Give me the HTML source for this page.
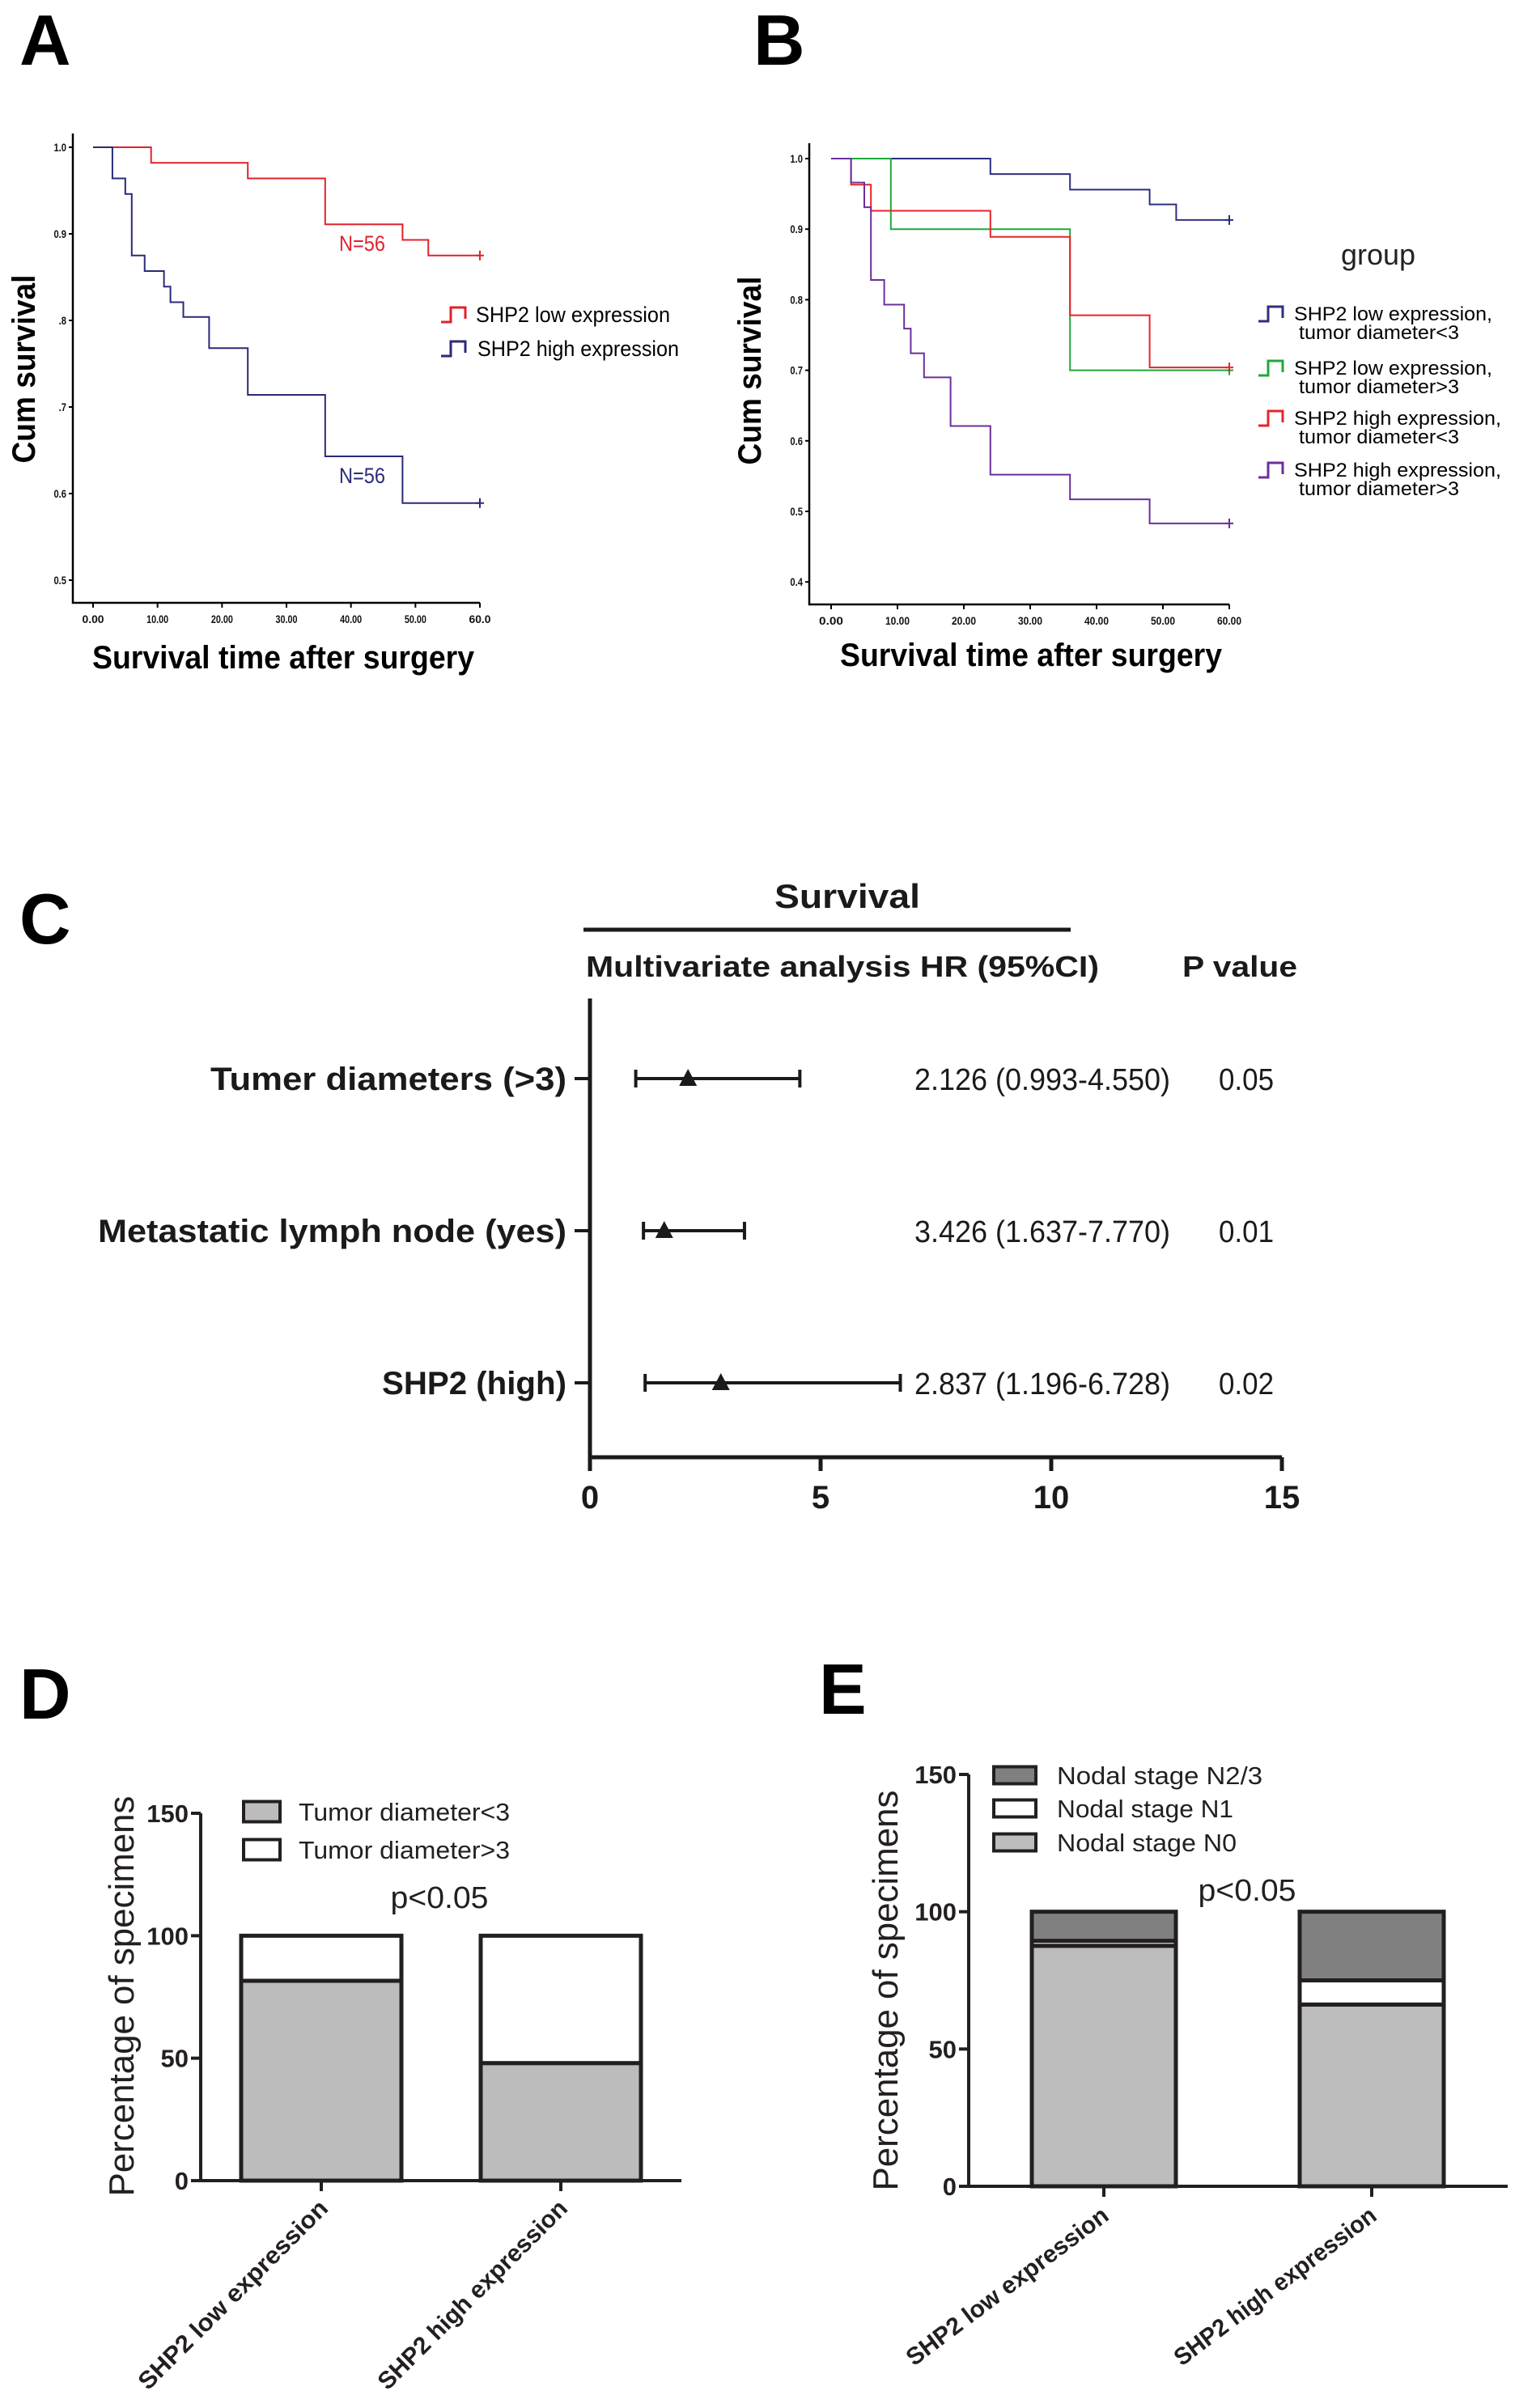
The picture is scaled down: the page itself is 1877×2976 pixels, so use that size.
<!DOCTYPE html>
<html><head><meta charset="utf-8"><style>
html,body{margin:0;padding:0;background:#fff}
svg{display:block}
text{font-family:"Liberation Sans",Arial,sans-serif}
</style></head>
<body>
<svg id="fig" xmlns="http://www.w3.org/2000/svg" width="1877" height="2976" viewBox="0 0 1877 2976">
<rect width="1877" height="2976" fill="#fff"/>
<g id="static"></g>
</svg>
<script>
// ---------- Panel A data ----------
const aLowTimes=[9,24,36,48,52];
const aLowSurv=[0.982,0.964,0.911,0.893,0.875];
const aHighTimes=[3,5,6,8,11,12,14,18,24,36,48];
const aHighSurv=[0.964,0.946,0.875,0.857,0.839,0.821,0.804,0.768,0.714,0.643,0.589];
const aYTicks=[1.0,0.9,0.8,0.7,0.6,0.5];
const aYTickLabels=["1.0","0.9",".8",".7","0.6","0.5"];
const kmXTicks=[0,10,20,30,40,50,60];
const aXTickLabels=["0.00","10.00","20.00","30.00","40.00","50.00","60.0"];
// ---------- Panel B data ----------
const bLowSmallTimes=[24,36,48,52];
const bLowSmallSurv=[0.978,0.956,0.935,0.913];
const bLowLargeTimes=[9,36];
const bLowLargeSurv=[0.900,0.700];
const bHighSmallTimes=[3,6,24,36,48];
const bHighSmallSurv=[0.963,0.926,0.889,0.778,0.704];
const bHighLargeTimes=[3,5,6,8,11,12,14,18,24,36,48];
const bHighLargeSurv=[0.966,0.931,0.828,0.793,0.759,0.724,0.690,0.621,0.552,0.517,0.483];
const bYTicks=[1.0,0.9,0.8,0.7,0.6,0.5,0.4];
const bYTickLabels=["1.0","0.9","0.8","0.7","0.6","0.5","0.4"];
const bXTickLabels=["0.00","10.00","20.00","30.00","40.00","50.00","60.00"];
// ---------- Panel C data ----------
const cFactors=["Tumer diameters (>3)","Metastatic lymph node (yes)","SHP2 (high)"];
const cHR=[2.126,1.61,2.837];
const cLow=[0.993,1.16,1.196];
const cHigh=[4.55,3.35,6.728];
const cHRText=["2.126 (0.993-4.550)","3.426 (1.637-7.770)","2.837 (1.196-6.728)"];
const cPText=["0.05","0.01","0.02"];
const cXTicks=[0,5,10,15];
// ---------- Panel D data ----------
const dCategories=["SHP2 low expression","SHP2 high expression"];
const dSmall=[81.6,48];
const dLarge=[18.4,52];
const dYTicks=[0,50,100,150];
// ---------- Panel E data ----------
const eCategories=["SHP2 low expression","SHP2 high expression"];
const eN0=[87.6,66.2];
const eN1=[1.8,8.8];
const eN23=[10.6,25];
const eYTicks=[0,50,100,150];

const NS="http://www.w3.org/2000/svg";
const root=document.getElementById('static');
function mk(tag,attrs,parent,txt){const e=document.createElementNS(NS,tag);for(const k in attrs)e.setAttribute(k,attrs[k]);if(txt!==undefined)e.textContent=txt;(parent||root).appendChild(e);return e;}

// ===== Panel letters =====
[["A",24,80],["B",931,80],["C",24,1166],["D",24,2124],["E",1012,2118]].forEach(p=>{
 const t=mk('text',{x:p[1],y:p[2],'font-size':88,'font-weight':'bold',fill:'#000'},root,p[0]);
 
 
});

// ===== KM helper =====
function kmPanel(cfg){
 const g=mk('g',{});
 
 
 const xs=v=>cfg.x0+(v-0)/60*(cfg.x60-cfg.x0);
 const ys=v=>cfg.y1+(1-v)/0.1*cfg.yPer01;
 const ax=mk('path',{d:`M${cfg.axX} ${cfg.axTop} V${cfg.axY} H${cfg.x60}`,stroke:'#000','stroke-width':2.5,fill:'none'},g);
 
 
 cfg.yTicks.forEach((v,i)=>{
  const tk=mk('line',{x1:cfg.axX-5,x2:cfg.axX,y1:ys(v),y2:ys(v),stroke:'#000','stroke-width':2},g);
  
  
  const tl=mk('text',{x:cfg.axX-8,y:ys(v)+5,'font-size':14,'font-weight':'bold','text-anchor':'end',fill:'#111',transform:`translate(${cfg.axX-8} 0) scale(0.8 1) translate(${-(cfg.axX-8)} 0)`},g,cfg.yLabels[i]);
  
  
 });
 kmXTicks.forEach((v,i)=>{
  const tk=mk('line',{x1:xs(v),x2:xs(v),y1:cfg.axY,y2:cfg.axY+6,stroke:'#000','stroke-width':2},g);
  
  
  const tl=mk('text',{x:xs(v),y:cfg.axY+25,'font-size':14,'font-weight':'bold','text-anchor':'middle',fill:'#111',textLength:cfg.tlw,lengthAdjust:'spacingAndGlyphs'},g,cfg.xLabels[i]);
  
  
 });
 cfg.series.forEach(s=>{
  let d=`M${xs(0)} ${ys(1)}`;
  s.t.forEach((t,i)=>{d+=` H${xs(t)} V${ys(s.s[i])}`;});
  d+=` H${xs(60)}`;
  const p=mk('path',{d,stroke:s.c,'stroke-width':2,fill:'none'},g);
  
  
  const last=s.s[s.s.length-1];
  const cm=mk('path',{d:`M${xs(60)-5} ${ys(last)} H${xs(60)+5} M${xs(60)} ${ys(last)-6} V${ys(last)+6}`,stroke:s.c,'stroke-width':2},g);
  
  
 });
 const yt=mk('text',{x:0,y:0,'font-size':40,'font-weight':'bold','text-anchor':'middle',transform:`translate(${cfg.ytX} ${cfg.ytY}) rotate(-90)`,textLength:233,lengthAdjust:'spacingAndGlyphs',dy:14},g,'Cum survival');
 
 
 const xt=mk('text',{x:cfg.xtX,y:cfg.xtY,'font-size':40,'font-weight':'bold','text-anchor':'middle',textLength:472,lengthAdjust:'spacingAndGlyphs'},g,'Survival time after surgery');
 
 
 return {g,xs,ys};
}
function legendSym(g,x,y,c){
 const p=mk('path',{d:`M${x} ${y+10} H${x+12} V${y-8} H${x+30} V${y+6}`,stroke:c,'stroke-width':3,fill:'none'},g);
 
 
}

// ===== Panel A =====
const A=kmPanel({name:'panel-a-km-chart',x0:115,x60:593,y1:182,yPer01:107,axX:90,axTop:165,axY:745,yTicks:aYTicks,yLabels:aYTickLabels,xLabels:aXTickLabels,tlw:27,
 series:[{t:aLowTimes,s:aLowSurv,c:'#e0222c',n:'line-shp2-low'},{t:aHighTimes,s:aHighSurv,c:'#2a2a78',n:'line-shp2-high'}],
 ytX:29,ytY:456,xtX:350,xtY:826});
let t=mk('text',{x:419,y:310,'font-size':27,fill:'#e0222c',textLength:57,lengthAdjust:'spacingAndGlyphs'},A.g,'N=56');


t=mk('text',{x:419,y:597,'font-size':27,fill:'#2a2a78',textLength:57,lengthAdjust:'spacingAndGlyphs'},A.g,'N=56');


legendSym(A.g,545,388,'#e0222c');
legendSym(A.g,545,430,'#2a2a78');
t=mk('text',{x:588,y:398,'font-size':27,textLength:240,lengthAdjust:'spacingAndGlyphs'},A.g,'SHP2 low expression');


t=mk('text',{x:590,y:440,'font-size':27,textLength:249,lengthAdjust:'spacingAndGlyphs'},A.g,'SHP2 high expression');



// ===== Panel B =====
const B=kmPanel({name:'panel-b-km-chart',x0:1027,x60:1519,y1:196,yPer01:87.2,axX:1000,axTop:177,axY:747,yTicks:bYTicks,yLabels:bYTickLabels,xLabels:bXTickLabels,tlw:30,
 series:[{t:bLowSmallTimes,s:bLowSmallSurv,c:'#2e2e7e',n:'line-low-small'},{t:bLowLargeTimes,s:bLowLargeSurv,c:'#1fa83a',n:'line-low-large'},{t:bHighSmallTimes,s:bHighSmallSurv,c:'#e8232b',n:'line-high-small'},{t:bHighLargeTimes,s:bHighLargeSurv,c:'#6b2f9a',n:'line-high-large'}],
 ytX:926,ytY:458,xtX:1274,xtY:823});
t=mk('text',{x:1703,y:327,'font-size':36,'text-anchor':'middle',fill:'#222',textLength:92,lengthAdjust:'spacingAndGlyphs'},B.g,'group');


const bLeg=[["SHP2 low expression,","tumor diameter<3",387,'#2e2e7e'],["SHP2 low expression,","tumor diameter>3",454,'#1fa83a'],["SHP2 high expression,","tumor diameter<3",516,'#e8232b'],["SHP2 high expression,","tumor diameter>3",580,'#6b2f9a']];
bLeg.forEach(r=>{
 legendSym(B.g,1555,r[2],r[3]);
 const a=mk('text',{x:1599,y:r[2]+9,'font-size':24,textLength:r[0].length>20?256:245,lengthAdjust:'spacingAndGlyphs'},B.g,r[0]);
 
 
 const b=mk('text',{x:1605,y:r[2]+32,'font-size':24,textLength:198,lengthAdjust:'spacingAndGlyphs'},B.g,r[1]);
 
 
});

// ===== Panel C (forest plot) =====
const C=mk('g',{});


const cx=v=>729+v*(1584-729)/15;
const cRowY=[1333,1521,1709];
t=mk('text',{x:1047,y:1122,'font-size':42,'font-weight':'bold','text-anchor':'middle',textLength:180,lengthAdjust:'spacingAndGlyphs',fill:'#1a1a1a'},C,'Survival');


t=mk('line',{x1:721,x2:1323,y1:1149,y2:1149,stroke:'#1a1a1a','stroke-width':5},C);


t=mk('text',{x:724,y:1207,'font-size':36,'font-weight':'bold',textLength:634,lengthAdjust:'spacingAndGlyphs',fill:'#1a1a1a'},C,'Multivariate analysis HR (95%CI)');


t=mk('text',{x:1461,y:1207,'font-size':36,'font-weight':'bold',textLength:142,lengthAdjust:'spacingAndGlyphs',fill:'#1a1a1a'},C,'P value');


t=mk('path',{d:`M729 1234 V1801 H${cx(15)}`,stroke:'#1a1a1a','stroke-width':5,fill:'none'},C);


cXTicks.forEach(v=>{
 const k=mk('line',{x1:cx(v),x2:cx(v),y1:1801,y2:1818,stroke:'#1a1a1a','stroke-width':5},C);
 
 
 const l=mk('text',{x:cx(v),y:1864,'font-size':40,'font-weight':'bold','text-anchor':'middle',fill:'#1a1a1a'},C,String(v));
 
 
});
const cLabW=[440,579,228];
cFactors.forEach((f,i)=>{
 const y=cRowY[i];
 const k=mk('line',{x1:710,x2:729,y1:y,y2:y,stroke:'#1a1a1a','stroke-width':4},C);
 
 
 const l=mk('text',{x:700,y:y+14,'font-size':40,'font-weight':'bold','text-anchor':'end',textLength:cLabW[i],lengthAdjust:'spacingAndGlyphs',fill:'#1a1a1a'},C,f);
 
 
 const ci=mk('path',{d:`M${cx(cLow[i])} ${y-11} V${y+11} M${cx(cLow[i])} ${y} H${cx(cHigh[i])} M${cx(cHigh[i])} ${y-11} V${y+11}`,stroke:'#1a1a1a','stroke-width':4,fill:'none'},C);
 
 
 const px=cx(cHR[i]);
 const tri=mk('path',{d:`M${px} ${y-12} L${px+11} ${y+9} L${px-11} ${y+9} Z`,fill:'#1a1a1a'},C);
 
 
 const v=mk('text',{x:1130,y:y+14,'font-size':38,textLength:316,lengthAdjust:'spacingAndGlyphs',fill:'#1a1a1a'},C,cHRText[i]);
 
 
 const p=mk('text',{x:1540,y:y+14,'font-size':38,'text-anchor':'middle',textLength:68,lengthAdjust:'spacingAndGlyphs',fill:'#1a1a1a'},C,cPText[i]);
 
 
});

// ===== Bar helper =====
function barPanel(cfg){
 const g=mk('g',{});
 
 
 const ys=v=>cfg.y0-v*cfg.pxPer;
 const ax=mk('path',{d:`M${cfg.axX} ${ys(150)} V${cfg.y0} H${cfg.axEnd}`,stroke:'#231f20','stroke-width':4,fill:'none'},g);
 
 
 cfg.yTicks.forEach(v=>{
  const k=mk('line',{x1:cfg.axX-12,x2:cfg.axX,y1:ys(v),y2:ys(v),stroke:'#231f20','stroke-width':4},g);
  
  
  const l=mk('text',{x:cfg.axX-15,y:ys(v)+11,'font-size':31,'font-weight':'bold','text-anchor':'end',fill:'#231f20'},g,String(v));
  
  
 });
 cfg.cats.forEach((c,i)=>{
  const x=cfg.barX[i];
  let base=0;
  cfg.stacks.forEach(st=>{
   const v=st.v[i];
   const r=mk('rect',{x:x,y:ys(base+v),width:cfg.barW,height:v*cfg.pxPer,fill:st.c,stroke:'#231f20','stroke-width':5},g);
   
   
   base+=v;
  });
  const tx=x+cfg.barW/2;
  const k=mk('line',{x1:tx,x2:tx,y1:cfg.y0,y2:cfg.y0+13,stroke:'#231f20','stroke-width':4},g);
  
  
  const l=mk('text',{x:0,y:0,'font-size':30,'font-weight':'bold','text-anchor':'end',fill:'#231f20',textLength:cfg.labW,lengthAdjust:'spacingAndGlyphs',transform:`translate(${tx+cfg.labDx} ${cfg.y0+cfg.labDy}) rotate(${cfg.rot})`},g,c);
  
  
 });
 const yt=mk('text',{x:0,y:0,'font-size':44,'text-anchor':'middle',fill:'#231f20',textLength:495,lengthAdjust:'spacingAndGlyphs',transform:`translate(${cfg.ytX} ${cfg.ytY}) rotate(-90)`,dy:15},g,'Percentage of specimens');
 
 
 const p=mk('text',{x:cfg.pX,y:cfg.pY+13,'font-size':38,'text-anchor':'middle',fill:'#231f20',textLength:121,lengthAdjust:'spacingAndGlyphs'},g,'p<0.05');
 
 
 cfg.legend.forEach(L=>{
  const r=mk('rect',{x:cfg.legX,y:L[1]-cfg.legH/2,width:cfg.legW,height:cfg.legH,fill:L[2],stroke:'#231f20','stroke-width':4},g);
  
  
  const tt=mk('text',{x:cfg.legTX,y:L[1]+11,'font-size':31,fill:'#231f20',textLength:L[3],lengthAdjust:'spacingAndGlyphs'},g,L[0]);
  
  
 });
 return g;
}

// ===== Panel D =====
barPanel({name:'panel-d-bar-chart',y0:2695,pxPer:(2695-2241)/150,axX:248,axEnd:842,yTicks:dYTicks,cats:dCategories,barX:[298,594],barW:198,
 stacks:[{v:dSmall,c:'#bcbcbc',n:'tumor-small'},{v:dLarge,c:'#ffffff',n:'tumor-large'}],
 labW:317,labDx:10,labDy:36,rot:-45,ytX:150,ytY:2467,pX:543,pY:2345,
 legX:301,legW:45,legH:25,legTX:369,legend:[["Tumor diameter<3",2239,'#bcbcbc',261],["Tumor diameter>3",2286,'#ffffff',261]]});

// ===== Panel E =====
barPanel({name:'panel-e-bar-chart',y0:2702,pxPer:(2702-2193)/150,axX:1197,axEnd:1863,yTicks:eYTicks,cats:eCategories,barX:[1275,1606],barW:178,
 stacks:[{v:eN0,c:'#bdbdbd',n:'n0'},{v:eN1,c:'#ffffff',n:'n1'},{v:eN23,c:'#808080',n:'n23'}],
 labW:304,labDx:8,labDy:40,rot:-37,ytX:1094,ytY:2460,pX:1541,pY:2336,
 legX:1228,legW:52,legH:21,legTX:1306,legend:[["Nodal stage N2/3",2194,'#808080',254],["Nodal stage N1",2235,'#ffffff',218],["Nodal stage N0",2277,'#bdbdbd',222]]});
</script>
</body></html>
